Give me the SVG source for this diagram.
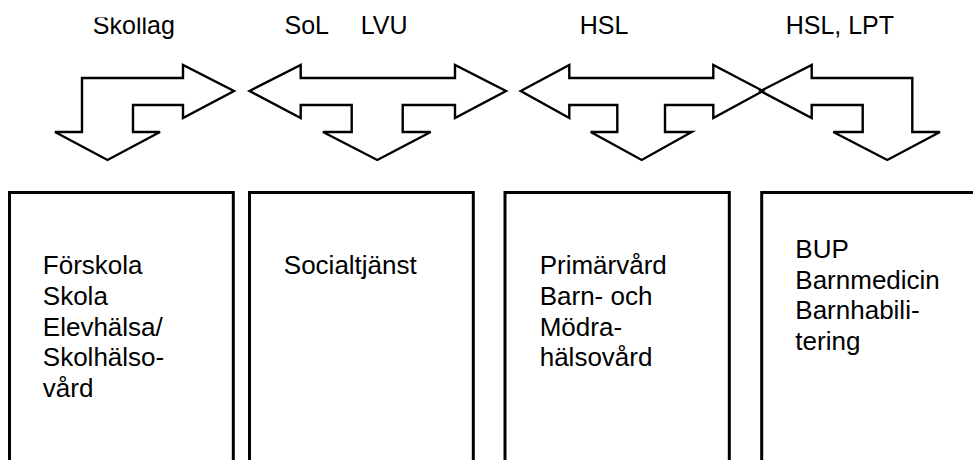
<svg xmlns="http://www.w3.org/2000/svg" width="973" height="460" viewBox="0 0 973 460">
  <defs>
    <style>
      .law { font-family: "Liberation Sans", Arial, sans-serif; font-size: 25px; fill: #000; }
      .body { font-family: "Liberation Sans", Arial, sans-serif; font-size: 26px; fill: #000; }
      .arrow { fill: #fff; stroke: #000; stroke-width: 2.4; stroke-linejoin: miter; }
      .box { fill: none; stroke: #000; stroke-width: 3; }
    </style>
    <clipPath id="topcut">
      <rect x="0" y="17.5" width="973" height="40"/>
    </clipPath>
  </defs>
  <rect width="973" height="460" fill="#fff"/>

  <!-- Legal frameworks above each column -->
  <g id="labels">
    <text class="law" x="92.8" y="34" clip-path="url(#topcut)">Skollag</text>
    <text class="law" y="34"><tspan x="284.5">SoL</tspan><tspan x="360.7">LVU</tspan></text>
    <text class="law" x="579.7" y="34">HSL</text>
    <text class="law" x="785.7" y="34">HSL, LPT</text>
  </g>

  <!-- Block arrows linking the columns -->
  <g id="connectors">
    <polygon id="arrow-skola" class="arrow" points="82,78 183,78 183,65 234,91 183,118 183,105 133,105 133,132 160,132 107.5,160 55,132 82,132"/>
    <polygon id="arrow-soc" class="arrow" points="249.5,91 300.7,65 300.7,78 455,78 455,65 506,91 455,118 455,105 402.7,105 402.7,132 430.7,132 377.3,160 323,132 351.7,132 351.7,105 300.7,105 300.7,118"/>
    <polygon id="arrow-hsl" class="arrow" points="520.7,91 569.3,65 569.3,78 713.3,78 713.3,65 763,91 713.3,118 713.3,105 665,105 665,132 691.7,132 641.7,160 590.7,132 617.3,132 617.3,105 569.3,105 569.3,118"/>
    <polygon id="arrow-bup" class="arrow" fill-opacity="0" points="760.5,91 811.7,65 811.7,78 912.3,78 912.3,132 940,132 887.3,160 833.3,132 862.7,132 862.7,105 811.7,105 811.7,118"/>
  </g>

  <!-- Columns -->
  <g id="col-skola">
    <path class="box" d="M9.5,462 V192.5 H233.3 V462"/>
    <text class="body" x="42.8">
      <tspan x="42.8" y="274.3">Förskola</tspan>
      <tspan x="42.8" y="305">Skola</tspan>
      <tspan x="42.8" y="335.7">Elevhälsa/</tspan>
      <tspan x="42.8" y="366.4">Skolhälso-</tspan>
      <tspan x="42.8" y="397">vård</tspan>
    </text>
  </g>
  <g id="col-soc">
    <path class="box" d="M249.5,462 V192.5 H473.3 V462"/>
    <text class="body" x="283.8" y="274.3">Socialtjänst</text>
  </g>
  <g id="col-primar">
    <path class="box" d="M505,462 V192.5 H729.3 V462"/>
    <text class="body">
      <tspan x="539.7" y="274.3">Primärvård</tspan>
      <tspan x="539.7" y="305">Barn- och</tspan>
      <tspan x="539.7" y="335.7">Mödra-</tspan>
      <tspan x="539.7" y="366.4">hälsovård</tspan>
    </text>
  </g>
  <g id="col-bup">
    <path class="box" d="M761.7,462 V192.5 H975"/>
    <text class="body">
      <tspan x="795.3" y="257.7">BUP</tspan>
      <tspan x="795.3" y="288.6">Barnmedicin</tspan>
      <tspan x="795.3" y="319.4">Barnhabili-</tspan>
      <tspan x="795.3" y="350">tering</tspan>
    </text>
  </g>
</svg>
